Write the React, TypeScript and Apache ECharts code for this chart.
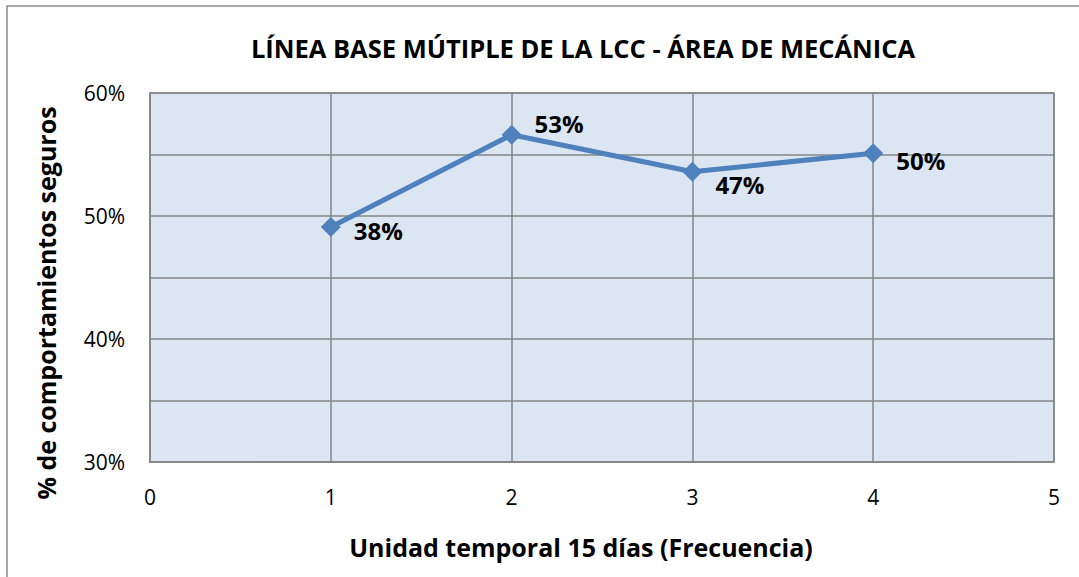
import React, { useEffect, useRef } from "react";
import * as echarts from "echarts";

const xValues = [1, 2, 3, 4];
const yValues = [49.1, 56.6, 53.6, 55.1];
const pointLabels = ["38%", "53%", "47%", "50%"];
const titleText = "LÍNEA BASE MÚTIPLE DE LA LCC - ÁREA DE MECÁNICA";
const xAxisTitle = "Unidad temporal 15 días (Frecuencia)";
const yAxisTitle = "% de comportamientos seguros";

const FONT = "'Open Sans', 'Liberation Sans', sans-serif";

export default function App() {
  const ref = useRef<HTMLDivElement>(null);
  useEffect(() => {
    if (!ref.current) return;
    const chart = echarts.init(ref.current, null, { renderer: "svg" });
    const labelOffsets = [
      [0, 3],
      [0, -11],
      [0, 13],
      [0, 7],
    ];
    const option = {
      animation: false,
      backgroundColor: "#ffffff",
      grid: {
        left: 150,
        right: 25,
        top: 93,
        bottom: 115,
        show: true,
        backgroundColor: "#DCE6F2",
        borderColor: "#868686",
        borderWidth: 1.5,
      },
      xAxis: {
        type: "value",
        min: 0,
        max: 5,
        interval: 1,
        axisLine: { show: true, lineStyle: { color: "#868686", width: 1.5 } },
        axisTick: { show: false },
        splitLine: { show: true, lineStyle: { color: "#868686", width: 1.5 } },
        axisLabel: {
          margin: 24,
          fontFamily: FONT,
          fontSize: 21,
          color: "#000",
        },
      },
      yAxis: {
        type: "value",
        min: 30,
        max: 60,
        interval: 5,
        axisLine: { show: true, lineStyle: { color: "#868686", width: 1.5 } },
        axisTick: { show: false },
        splitLine: { show: true, lineStyle: { color: "#868686", width: 1.5 } },
        axisLabel: {
          margin: 25,
          fontFamily: FONT,
          fontSize: 21,
          color: "#000",
          formatter: (v: number) =>
            Math.round(v) % 10 === 0 ? `${Math.round(v)}%` : "",
        },
      },
      graphic: [
        {
          type: "rect",
          shape: { x: 7, y: 6, width: 1200, height: 700 },
          style: { fill: "none", stroke: "#8c8c8c", lineWidth: 1.5 },
          silent: true,
        },
        {
          type: "text",
          x: 583,
          y: 48,
          style: {
            text: titleText,
            fontFamily: FONT,
            fontSize: 25.5,
            fontWeight: "bold",
            fill: "#000",
            align: "center",
            verticalAlign: "middle",
          },
        },
        {
          type: "text",
          x: 581,
          y: 547,
          style: {
            text: xAxisTitle,
            fontFamily: FONT,
            fontSize: 25,
            fontWeight: "bold",
            fill: "#000",
            align: "center",
            verticalAlign: "middle",
          },
        },
        {
          type: "text",
          x: 46,
          y: 303,
          rotation: Math.PI / 2,
          style: {
            text: yAxisTitle,
            fontFamily: FONT,
            fontSize: 25,
            fontWeight: "bold",
            fill: "#000",
            align: "center",
            verticalAlign: "middle",
          },
        },
      ],
      series: [
        {
          type: "line",
          data: xValues.map((x, i) => ({
            value: [x, yValues[i]],
            label: {
              show: true,
              position: "right",
              distance: 13,
              offset: labelOffsets[i],
              formatter: pointLabels[i],
            },
          })),
          symbol: "diamond",
          symbolSize: 20,
          lineStyle: { color: "#4F81BD", width: 5 },
          itemStyle: { color: "#4F81BD" },
          label: {
            show: true,
            fontFamily: FONT,
            fontSize: 24,
            fontWeight: "bold",
            color: "#000",
          },
        },
      ],
    };
    chart.setOption(option as any);
    return () => chart.dispose();
  }, []);
  return (
    <div
      ref={ref}
      style={{ position: "absolute", left: 0, top: 0, width: 1079, height: 577 }}
    />
  );
}
